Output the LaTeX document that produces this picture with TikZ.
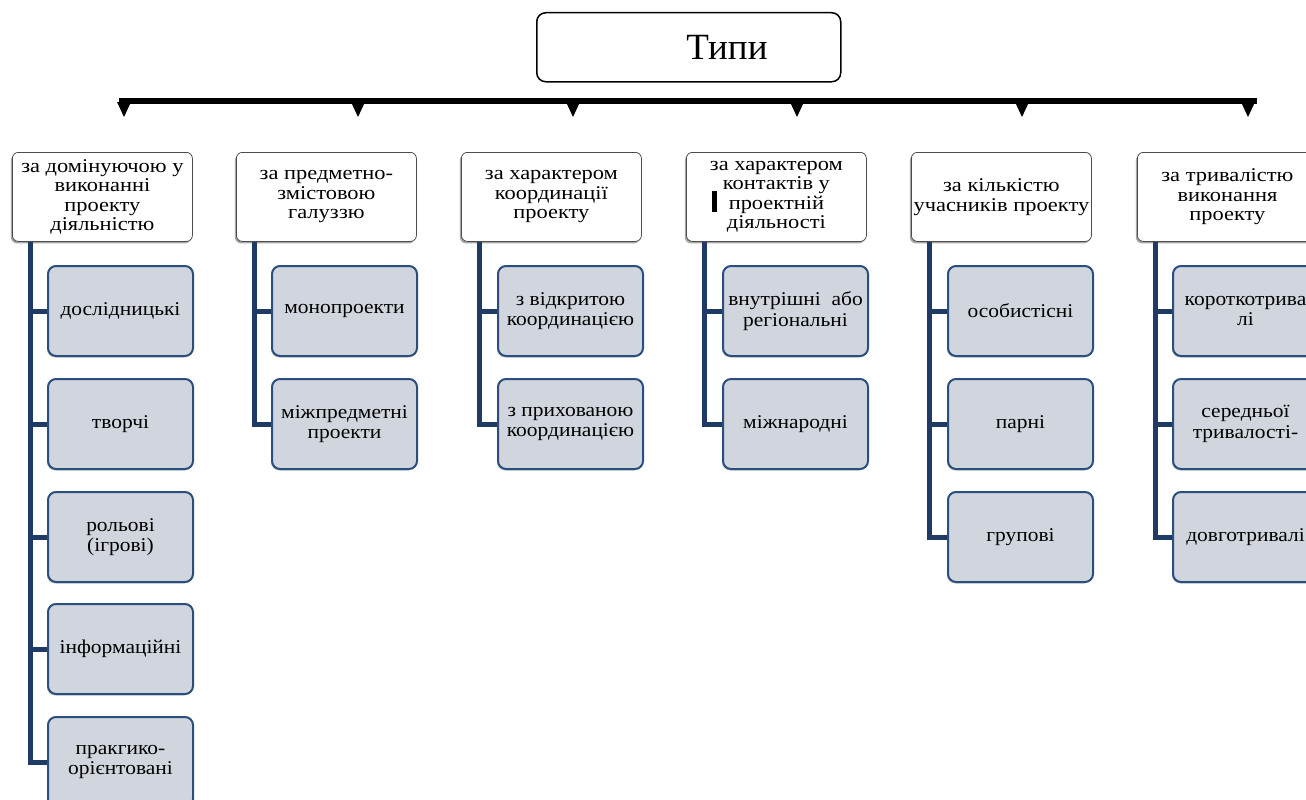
\documentclass[tikz,border=0pt]{standalone}
\usepackage{fontspec}
\setmainfont{Liberation Serif}
\newfontfamily\widefont[FakeStretch=1.15]{Liberation Serif}
\newfontfamily\kidfont[FakeStretch=1.1]{Liberation Serif}
\usetikzlibrary{shadows}
\definecolor{navy}{HTML}{1F3A64}
\definecolor{kidfill}{HTML}{D1D6DE}
\definecolor{kidline}{HTML}{2A4E7E}
\tikzset{
  x=1pt,y=-1pt,
  titlebox/.style={draw=black,line width=1.5pt,rounded corners=9pt,fill=white},
  catbox/.style={draw=black!70,line width=0.8pt,rounded corners=6pt,fill=white,
    minimum width=180pt,minimum height=89pt,align=center,inner sep=1pt,
    font=\widefont\fontsize{19.5}{19.5}\selectfont,
    drop shadow={shadow xshift=-1.5pt,shadow yshift=-2pt,fill=black!50,opacity=0.7}},
  kidbox/.style={draw=kidline,line width=2pt,rounded corners=8pt,fill=kidfill,
    minimum width=145pt,minimum height=90pt,align=center,inner sep=1pt,
    font=\kidfont\fontsize{19.5}{20.5}\selectfont,
    drop shadow={shadow xshift=-1pt,shadow yshift=-1.5pt,fill=black!40,opacity=0.5}},
  conn/.style={draw=navy,line width=5pt,line join=miter},
  tri/.style={fill=black},
}
\begin{document}
\begin{tikzpicture}
\useasboundingbox (0,0) rectangle (1306,800);
\clip (0,0) rectangle (1306,800);
% title
\node[titlebox,minimum width=304pt,minimum height=69pt,anchor=north west] (title) at (536,12) {};
\node[font=\fontsize{37}{40}\selectfont] (titletext) at (727,47) {Типи};
% bar
\coordinate (barL) at (119,101);
\coordinate (barR) at (1257,101);
\draw[line width=6pt] (barL) -- (barR);
\foreach \x in {124,358,573,797,1022,1248}{
  \fill[tri] (\x-7,102) -- (\x+7,102) -- (\x,117) -- cycle;
}
% categories
\node[catbox,anchor=north west] (c1) at (12,152) {за домінуючою у\\виконанні\\проекту\\діяльністю};
\node[catbox,anchor=north west] (c2) at (236,152) {за предметно-\\змістовою\\галуззю};
\node[catbox,anchor=north west] (c3) at (461,152) {за характером\\координації\\проекту};
\node[catbox,anchor=north west] (c4) at (686,152) {за характером\\контактів у\\проектній\\діяльності};
\node[catbox,anchor=north west] (c5) at (911,152) {за кількістю\\учасників проекту};
\node[catbox,anchor=north west] (c6) at (1137,152) {за тривалістю\\виконання\\проекту};
\fill[black] (712,191) rectangle (717,212);
% children
\foreach \c/\cx in {1/47,2/271,3/497,4/722,5/947,6/1172}{
  \foreach \r/\ry in {1/265,2/378,3/491,4/603,5/716}{
    \coordinate (p\c\r) at (\cx,\ry);
  }
}
\newcommand{\kid}[3]{\node[kidbox,anchor=north west] (#1) at (#2) {#3};}
% connectors (drawn first, under the boxes)
\newcommand{\trunk}[3]{%
  \coordinate (t#1) at ([xshift=18pt]c#1.south west);
  \draw[conn] (t#1) |- (#2);
  \foreach \k in {#3}{\draw[conn] (t#1 |- \k) -- (\k);}
}
\kid{k11}{p11}{дослідницькі}
\kid{k12}{p12}{творчі}
\kid{k13}{p13}{рольові\\(ігрові)}
\kid{k14}{p14}{інформаційні}
\kid{k15}{p15}{пракгико-\\орієнтовані}
\kid{k21}{p21}{монопроекти}
\kid{k22}{p22}{міжпредметні\\проекти}
\kid{k31}{p31}{з відкритою\\координацією}
\kid{k32}{p32}{з прихованою\\координацією}
\kid{k41}{p41}{внутрішні\ \ або\\регіональні}
\kid{k42}{p42}{міжнародні}
\kid{k51}{p51}{особистісні}
\kid{k52}{p52}{парні}
\kid{k53}{p53}{групові}
\kid{k61}{p61}{короткотрива\\лі}
\kid{k62}{p62}{середньої\\тривалості-}
\kid{k63}{p63}{довготривалі}
\trunk{1}{k15.west}{k11.west,k12.west,k13.west,k14.west}
\trunk{2}{k22.west}{k21.west}
\trunk{3}{k32.west}{k31.west}
\trunk{4}{k42.west}{k41.west}
\trunk{5}{k53.west}{k51.west,k52.west}
\trunk{6}{k63.west}{k61.west,k62.west}
\end{tikzpicture}
\end{document}
